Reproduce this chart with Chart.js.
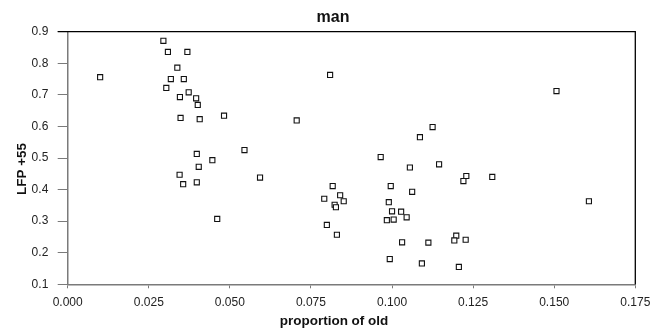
<!DOCTYPE html>
<html>
<head>
<meta charset="utf-8">
<script src="https://cdn.jsdelivr.net/npm/chart.js@4"></script>
<style>
  html, body { margin: 0; padding: 0; background: #ffffff; }
  #c { display: block; }
</style>
</head>
<body>
<canvas id="c" width="666" height="334"></canvas>
<script>
// ---- data ----
const chartTitle = "man";
const xAxisTitle = "proportion of old";
const yAxisTitle = "LFP +55";

const proportionOld = [
  0.0100, 0.0295, 0.0309, 0.0369, 0.0338, 0.0318, 0.0358, 0.0304, 0.0346, 0.0373,
  0.0396, 0.0401, 0.0348, 0.0407, 0.0482, 0.0706, 0.0809, 0.0545, 0.0398, 0.0446,
  0.0404, 0.0345, 0.0593, 0.0356, 0.0398, 0.0461, 0.1507, 0.1125, 0.1086, 0.0965,
  0.1055, 0.1145, 0.0817, 0.0996, 0.1062, 0.0791, 0.0840, 0.0823, 0.0827, 0.0851,
  0.0799, 0.0830, 0.0990, 0.1000, 0.1028, 0.0984, 0.1005, 0.1045, 0.1031, 0.1112,
  0.0993, 0.1092, 0.1229, 0.1220, 0.1309, 0.1607, 0.1198, 0.1192, 0.1227, 0.1206
];
const lfp55 = [
  0.756, 0.871, 0.836, 0.836, 0.786, 0.750, 0.750, 0.722, 0.693, 0.708,
  0.689, 0.668, 0.627, 0.623, 0.634, 0.619, 0.763, 0.525, 0.513, 0.493,
  0.472, 0.447, 0.438, 0.417, 0.423, 0.307, 0.712, 0.598, 0.566, 0.503,
  0.470, 0.480, 0.411, 0.411, 0.393, 0.371, 0.382, 0.352, 0.344, 0.363,
  0.288, 0.257, 0.360, 0.331, 0.330, 0.303, 0.305, 0.312, 0.233, 0.232,
  0.180, 0.166, 0.443, 0.427, 0.440, 0.363, 0.254, 0.239, 0.241, 0.155
];
const xTickValues = [0.000, 0.025, 0.050, 0.075, 0.100, 0.125, 0.150, 0.175];
const yTickValues = [0.1, 0.2, 0.3, 0.4, 0.5, 0.6, 0.7, 0.8, 0.9];

// ---- build chart ----
const points = proportionOld.map((x, i) => ({ x: x, y: lfp55[i] }));
const FONT = "'Liberation Sans', Arial, sans-serif";

const framePlugin = {
  id: 'frame',
  afterDraw(chart) {
    const ctx = chart.ctx;
    const a = chart.chartArea;
    ctx.save();
    // top and right frame lines
    ctx.strokeStyle = '#000000';
    ctx.lineWidth = 1.3;
    ctx.beginPath();
    ctx.moveTo(a.left - 10, a.top);
    ctx.lineTo(a.right, a.top);
    ctx.lineTo(a.right, a.bottom);
    ctx.stroke();
    // axis titles
    ctx.fillStyle = '#111111';
    ctx.font = "bold 13.5px " + FONT;
    ctx.textAlign = 'center';
    ctx.textBaseline = 'alphabetic';
    ctx.fillText(xAxisTitle, 334, 325);
    ctx.translate(25.5, 169);
    ctx.rotate(-Math.PI / 2);
    ctx.fillText(yAxisTitle, 0, 0);
    ctx.restore();
  }
};

new Chart(document.getElementById('c'), {
  type: 'scatter',
  data: {
    datasets: [{
      data: points,
      pointStyle: 'rect',
      pointRadius: 3.6,
      pointHoverRadius: 3.6,
      borderWidth: 1.1,
      borderColor: '#111111',
      backgroundColor: '#ffffff'
    }]
  },
  options: {
    responsive: false,
    animation: false,
    layout: { padding: 0 },
    plugins: {
      legend: { display: false },
      tooltip: { enabled: false },
      title: {
        display: true,
        text: chartTitle,
        color: '#111111',
        font: { family: FONT, size: 16, weight: 'bold', lineHeight: 1.2 },
        padding: { top: 8.2, bottom: 4.3 }
      }
    },
    scales: {
      x: {
        type: 'linear',
        min: 0,
        max: 0.175,
        afterBuildTicks(scale) { scale.ticks = xTickValues.map(v => ({ value: v })); },
        afterFit(scale) { scale.height = 49.7; scale.paddingRight = 30.7; },
        ticks: {
          color: '#222222',
          padding: 6.7,
          font: { family: FONT, size: 12 },
          maxRotation: 0,
          callback: (v) => Number(v).toFixed(3)
        },
        grid: { display: true, drawOnChartArea: false, drawTicks: true, tickLength: 4, color: '#7a7a7a', lineWidth: 1 },
        border: { display: true, color: '#7a7a7a', width: 1.5 },
        title: { display: false }
      },
      y: {
        type: 'linear',
        min: 0.1,
        max: 0.9,
        afterBuildTicks(scale) { scale.ticks = yTickValues.map(v => ({ value: v })); },
        afterFit(scale) { scale.width = 67.7; },
        ticks: {
          color: '#222222',
          padding: 9.4,
          font: { family: FONT, size: 12 },
          callback: (v) => Number(v).toFixed(1)
        },
        grid: { display: true, drawOnChartArea: false, drawTicks: true, tickLength: 10, color: '#7a7a7a', lineWidth: 1 },
        border: { display: true, color: '#7a7a7a', width: 1.5 },
        title: { display: false }
      }
    }
  },
  plugins: [framePlugin]
});
</script>
</body>
</html>
